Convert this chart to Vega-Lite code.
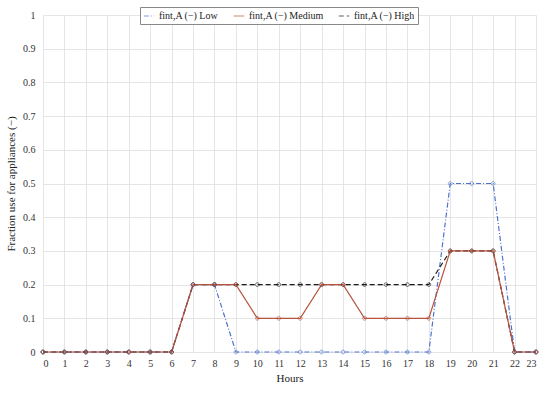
{
  "$schema": "https://vega.github.io/schema/vega-lite/v6.json",
  "width": 493,
  "height": 337,
  "autosize": {"type": "none"},
  "padding": {"left": 43, "top": 15, "right": 14, "bottom": 41},
  "background": "white",
  "config": {
    "font": "Liberation Serif",
    "view": {"stroke": null},
    "axis": {"labelFont": "Liberation Serif", "titleFont": "Liberation Serif", "labelColor": "#333", "titleColor": "#222", "titleFontWeight": "normal", "labelFontSize": 10, "titleFontSize": 11, "gridColor": "#dedede", "gridWidth": 0.8, "ticks": false, "domain": false}
  },
  "data": {
    "values": [
      {"h":0,"s":"fint,A (−) Low","v":0},{"h":1,"s":"fint,A (−) Low","v":0},{"h":2,"s":"fint,A (−) Low","v":0},{"h":3,"s":"fint,A (−) Low","v":0},{"h":4,"s":"fint,A (−) Low","v":0},{"h":5,"s":"fint,A (−) Low","v":0},{"h":6,"s":"fint,A (−) Low","v":0},{"h":7,"s":"fint,A (−) Low","v":0.2},{"h":8,"s":"fint,A (−) Low","v":0.2},{"h":9,"s":"fint,A (−) Low","v":0},{"h":10,"s":"fint,A (−) Low","v":0},{"h":11,"s":"fint,A (−) Low","v":0},{"h":12,"s":"fint,A (−) Low","v":0},{"h":13,"s":"fint,A (−) Low","v":0},{"h":14,"s":"fint,A (−) Low","v":0},{"h":15,"s":"fint,A (−) Low","v":0},{"h":16,"s":"fint,A (−) Low","v":0},{"h":17,"s":"fint,A (−) Low","v":0},{"h":18,"s":"fint,A (−) Low","v":0},{"h":19,"s":"fint,A (−) Low","v":0.5},{"h":20,"s":"fint,A (−) Low","v":0.5},{"h":21,"s":"fint,A (−) Low","v":0.5},{"h":22,"s":"fint,A (−) Low","v":0},{"h":23,"s":"fint,A (−) Low","v":0},
      {"h":0,"s":"fint,A (−) High","v":0},{"h":1,"s":"fint,A (−) High","v":0},{"h":2,"s":"fint,A (−) High","v":0},{"h":3,"s":"fint,A (−) High","v":0},{"h":4,"s":"fint,A (−) High","v":0},{"h":5,"s":"fint,A (−) High","v":0},{"h":6,"s":"fint,A (−) High","v":0},{"h":7,"s":"fint,A (−) High","v":0.2},{"h":8,"s":"fint,A (−) High","v":0.2},{"h":9,"s":"fint,A (−) High","v":0.2},{"h":10,"s":"fint,A (−) High","v":0.2},{"h":11,"s":"fint,A (−) High","v":0.2},{"h":12,"s":"fint,A (−) High","v":0.2},{"h":13,"s":"fint,A (−) High","v":0.2},{"h":14,"s":"fint,A (−) High","v":0.2},{"h":15,"s":"fint,A (−) High","v":0.2},{"h":16,"s":"fint,A (−) High","v":0.2},{"h":17,"s":"fint,A (−) High","v":0.2},{"h":18,"s":"fint,A (−) High","v":0.2},{"h":19,"s":"fint,A (−) High","v":0.3},{"h":20,"s":"fint,A (−) High","v":0.3},{"h":21,"s":"fint,A (−) High","v":0.3},{"h":22,"s":"fint,A (−) High","v":0},{"h":23,"s":"fint,A (−) High","v":0},
      {"h":0,"s":"fint,A (−) Medium","v":0},{"h":1,"s":"fint,A (−) Medium","v":0},{"h":2,"s":"fint,A (−) Medium","v":0},{"h":3,"s":"fint,A (−) Medium","v":0},{"h":4,"s":"fint,A (−) Medium","v":0},{"h":5,"s":"fint,A (−) Medium","v":0},{"h":6,"s":"fint,A (−) Medium","v":0},{"h":7,"s":"fint,A (−) Medium","v":0.2},{"h":8,"s":"fint,A (−) Medium","v":0.2},{"h":9,"s":"fint,A (−) Medium","v":0.2},{"h":10,"s":"fint,A (−) Medium","v":0.1},{"h":11,"s":"fint,A (−) Medium","v":0.1},{"h":12,"s":"fint,A (−) Medium","v":0.1},{"h":13,"s":"fint,A (−) Medium","v":0.2},{"h":14,"s":"fint,A (−) Medium","v":0.2},{"h":15,"s":"fint,A (−) Medium","v":0.1},{"h":16,"s":"fint,A (−) Medium","v":0.1},{"h":17,"s":"fint,A (−) Medium","v":0.1},{"h":18,"s":"fint,A (−) Medium","v":0.1},{"h":19,"s":"fint,A (−) Medium","v":0.3},{"h":20,"s":"fint,A (−) Medium","v":0.3},{"h":21,"s":"fint,A (−) Medium","v":0.3},{"h":22,"s":"fint,A (−) Medium","v":0},{"h":23,"s":"fint,A (−) Medium","v":0}
    ]
  },
  "encoding": {
    "x": {"field": "h", "type": "quantitative", "title": "Hours", "scale": {"domain": [0, 23], "nice": false}, "axis": {"values": [0,1,2,3,4,5,6,7,8,9,10,11,12,13,14,15,16,17,18,19,20,21,22,23], "labelPadding": 6, "titlePadding": 4}},
    "y": {"field": "v", "type": "quantitative", "title": "Fraction use for appliances (−)", "scale": {"domain": [0, 1], "nice": false}, "axis": {"values": [0,0.1,0.2,0.3,0.4,0.5,0.6,0.7,0.8,0.9,1], "format": "~g", "labelPadding": 8, "titlePadding": 6}},
    "color": {"field": "s", "type": "nominal", "title": null, "sort": ["fint,A (−) Low", "fint,A (−) Medium", "fint,A (−) High"], "scale": {"domain": ["fint,A (−) Low", "fint,A (−) Medium", "fint,A (−) High"], "range": ["#4f72d0", "#b8523e", "#1a1a1a"]}, "legend": {"orient": "none", "legendX": 97, "legendY": -8, "direction": "horizontal", "symbolType": "stroke", "symbolSize": 110, "symbolStrokeWidth": 1.2, "labelFont": "Liberation Serif", "labelFontSize": 10, "labelColor": "#222", "strokeColor": "#888", "padding": 3, "columnPadding": 12, "fillColor": "white"}},
    "strokeDash": {"field": "s", "type": "nominal", "title": null, "sort": ["fint,A (−) Low", "fint,A (−) Medium", "fint,A (−) High"], "scale": {"domain": ["fint,A (−) Low", "fint,A (−) Medium", "fint,A (−) High"], "range": [[5, 2, 1, 2], [1, 0], [5, 3]]}, "legend": null}
  },
  "layer": [
    {"mark": {"type": "line", "strokeWidth": 1.2}},
    {"mark": {"type": "point", "filled": false, "size": 14, "strokeWidth": 1}, "encoding": {"strokeDash": {"value": [1, 0]}}}
  ]
}
